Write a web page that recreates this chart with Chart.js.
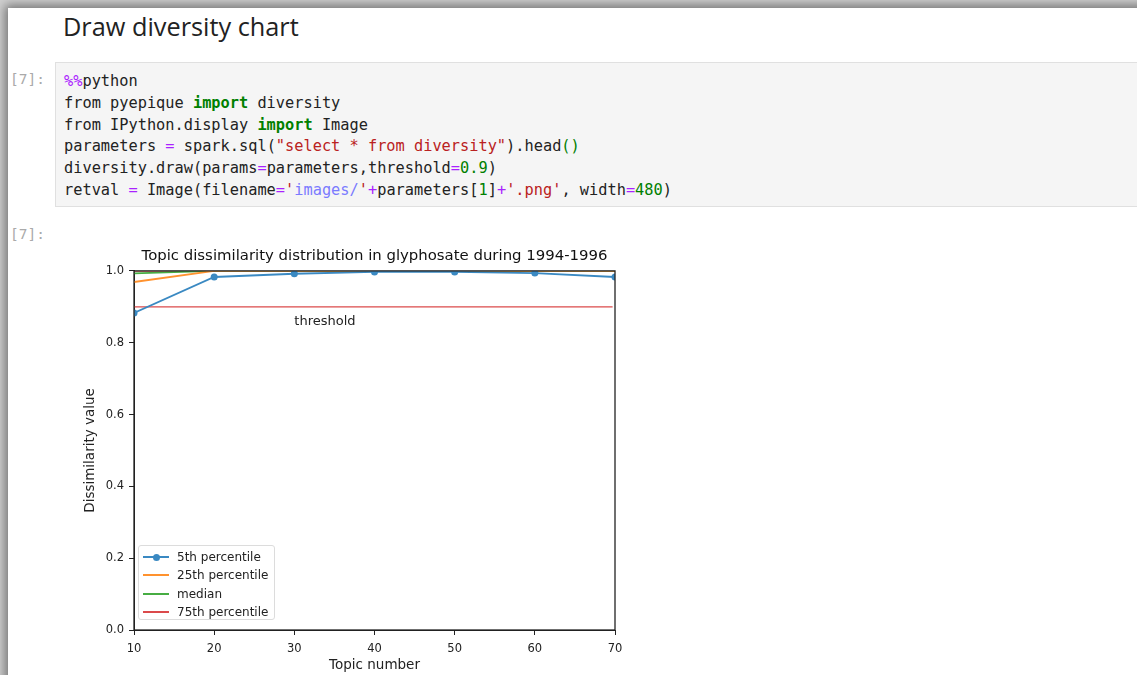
<!DOCTYPE html>
<html lang="en">
<head>
<meta charset="UTF-8">
<script src="https://cdn.jsdelivr.net/npm/chart.js"></script>
<style>
    html, body { margin: 0; padding: 0; background: #d0d0d0; overflow: hidden; }
    body { width: 1137px; height: 675px; position: relative; }
    #page {
        position: absolute; left: 8px; top: 8px; width: 1160px; height: 700px;
        background: #fff; box-shadow: 0 0 10px 3px rgba(0,0,0,0.45);
    }
    .abs { position: absolute; }
    h2 {
        position: absolute; left: 63px; top: 9px; margin: 0;
        font: 25.3px "Open Sans", sans-serif; color: #222; font-weight: normal;
    }
    .prompt { font: 14.5px "DejaVu Sans Mono", monospace; color: #aaa; }
    #cell {
        position: absolute; left: 55px; top: 62px; width: 1100px; height: 145px;
        background: #f5f5f5; border: 1px solid #e0e0e0; box-sizing: border-box;
    }
    pre {
        position: absolute; left: 8px; top: 8px; margin: 0;
        font: 15.3px "DejaVu Sans Mono", monospace; line-height: 21.8px; color: #222;
    }
    .m { color: #aa22ff; }
    .k { color: #008000; font-weight: bold; }
    .o { color: #aa22ff; }
    .s { color: #ba2121; }
    .p { color: #7b7bff; }
    .n { color: #008000; }
    #chartBox { position: absolute; left: 76px; top: 243px; width: 564px; height: 432px; }
    #legend {
        position: absolute; left: 138px; top: 545px; width: 137px; height: 75px;
        border: 1px solid #dcdcdc; border-radius: 3px; background: rgba(255,255,255,0.85);
        box-sizing: border-box; font: 12px "DejaVu Sans", sans-serif; color: #222;
    }
    .row { position: absolute; left: 0; height: 18px; width: 100%; }
    .row span { position: absolute; left: 38px; top: 1px; }
    .sample { position: absolute; left: 4px; top: 7px; width: 26px; height: 2px; }
    .dot { position: absolute; left: 9.5px; top: -2.5px; width: 7px; height: 7px; border-radius: 50%; }
</style>
</head>
<body>
<div id="page"></div>
<h2>Draw diversity chart</h2>
<div class="abs prompt" style="left:10px; top:71px;">[7]:</div>
<div id="cell">
<pre><span class="m">%%</span>python
from pyepique <span class="k">import</span> diversity
from IPython.display <span class="k">import</span> Image
parameters <span class="o">=</span> spark.sql(<span class="s">"select * from diversity"</span>).head<span class="n">()</span>
diversity.draw(params<span class="o">=</span>parameters,threshold<span class="o">=</span><span class="n">0.9</span>)
retval <span class="o">=</span> Image(filename<span class="o">=</span><span class="s">'</span><span class="p">images/</span><span class="s">'</span><span class="o">+</span>parameters[<span class="n">1</span>]<span class="o">+</span><span class="s">'.png'</span>, width<span class="o">=</span><span class="n">480</span>)</pre>
</div>
<div class="abs prompt" style="left:10px; top:226px;">[7]:</div>

<div id="chartBox"><canvas id="diversity"></canvas></div>
<div id="legend"></div>

<script>
    // values
    const topics = [10, 20, 30, 40, 50, 60, 70];
    const p5 = [0.883, 0.983, 0.992, 0.997, 0.997, 0.994, 0.983];
    const p25 = [0.969, 1.0, 1.0, 1.0, 1.0, 1.0, 1.0];
    const median = [0.993, 1.0, 1.0, 1.0, 1.0, 1.0, 1.0];
    const p75 = [1.0, 1.0, 1.0, 1.0, 1.0, 1.0, 1.0];
    const threshold = 0.9;
    const thresholdEnd = 69.7;
    const thresholdLabelAt = [30, 0.85];
    const yTicks = [0, 0.2, 0.4, 0.6, 0.8, 1.0];

    const series = [
        { label: '5th percentile', values: p5, color: '#3a89c2', marker: true },
        { label: '25th percentile', values: p25, color: '#ff922e', marker: false },
        { label: 'median', values: median, color: '#47ad43', marker: false },
        { label: '75th percentile', values: p75, color: '#db4a4b', marker: false }
    ];

    const datasets = series.map(s => ({
        label: s.label,
        data: topics.map((t, i) => ({ x: t, y: s.values[i] })),
        borderColor: s.color,
        backgroundColor: s.color,
        borderWidth: 1.8,
        pointRadius: s.marker ? 3.5 : 0,
        pointBorderWidth: 0,
        tension: 0
    }));
    datasets.push({
        label: 'threshold',
        data: [{ x: topics[0], y: threshold }, { x: thresholdEnd, y: threshold }],
        borderColor: '#db4a4b',
        borderWidth: 1.3,
        pointRadius: 0,
        inLegend: false
    });

    // box around the axes + threshold text
    const framePlugin = {
        id: 'frame',
        afterDatasetsDraw(chart) {
            const { ctx, chartArea: a, scales } = chart;
            ctx.save();
            ctx.font = '13px "DejaVu Sans"';
            ctx.fillStyle = '#222';
            ctx.textBaseline = 'alphabetic';
            ctx.fillText('threshold', scales.x.getPixelForValue(thresholdLabelAt[0]), scales.y.getPixelForValue(thresholdLabelAt[1]));
            ctx.strokeStyle = '#222';
            ctx.lineWidth = 1.3;
            ctx.strokeRect(a.left, a.top, a.right - a.left, a.bottom - a.top);
            ctx.restore();
        }
    };

    const axisFont = { family: 'DejaVu Sans', size: 11.5 };
    const titleFont = { family: 'DejaVu Sans', size: 13.5 };

    const chart = new Chart(document.getElementById('diversity'), {
        type: 'line',
        data: { datasets: datasets },
        options: {
            responsive: true,
            maintainAspectRatio: false,
            animation: false,
            layout: { padding: { right: 25 } },
            plugins: {
                legend: { display: false },
                tooltip: { enabled: false },
                title: {
                    display: true,
                    text: 'Topic dissimilarity distribution in glyphosate during 1994-1996',
                    font: { family: 'DejaVu Sans', size: 14.9, weight: 'normal' },
                    color: '#111',
                    fullSize: false,
                    padding: { top: 4, bottom: 6 }
                }
            },
            scales: {
                x: {
                    type: 'linear',
                    min: 10, max: 70,
                    ticks: { stepSize: 10, font: axisFont, color: '#222', padding: 7, maxRotation: 0 },
                    grid: { drawOnChartArea: false, tickLength: 5, color: '#222' },
                    border: { color: '#222' },
                    title: { display: true, text: 'Topic number', font: titleFont, color: '#222', padding: { top: 0, bottom: 1 } },
                    afterFit(scale) { scale.height = 45; }
                },
                y: {
                    min: 0, max: 1,
                    afterBuildTicks(scale) { scale.ticks = yTicks.map(v => ({ value: v })); },
                    ticks: { font: axisFont, color: '#222', padding: 5, callback: v => v.toFixed(1) },
                    grid: { drawOnChartArea: false, tickLength: 5, color: '#222' },
                    border: { color: '#222' },
                    title: { display: true, text: 'Dissimilarity value', font: titleFont, color: '#222', padding: { top: 6, bottom: 4 } },
                    afterFit(scale) { scale.width = 58; }
                }
            }
        },
        plugins: [framePlugin]
    });

    // legend inside the axes, built from the chart's datasets
    const legend = document.getElementById('legend');
    chart.data.datasets.forEach((ds, i) => {
        if (ds.inLegend === false) return;
        const row = document.createElement('div');
        row.className = 'row';
        row.style.top = (3 + i * 18.3) + 'px';
        const sample = document.createElement('div');
        sample.className = 'sample';
        sample.style.background = ds.borderColor;
        if (ds.pointRadius > 0) {
            const dot = document.createElement('div');
            dot.className = 'dot';
            dot.style.background = ds.borderColor;
            sample.appendChild(dot);
        }
        const text = document.createElement('span');
        text.textContent = ds.label;
        row.appendChild(sample);
        row.appendChild(text);
        legend.appendChild(row);
    });
</script>
</body>
</html>
